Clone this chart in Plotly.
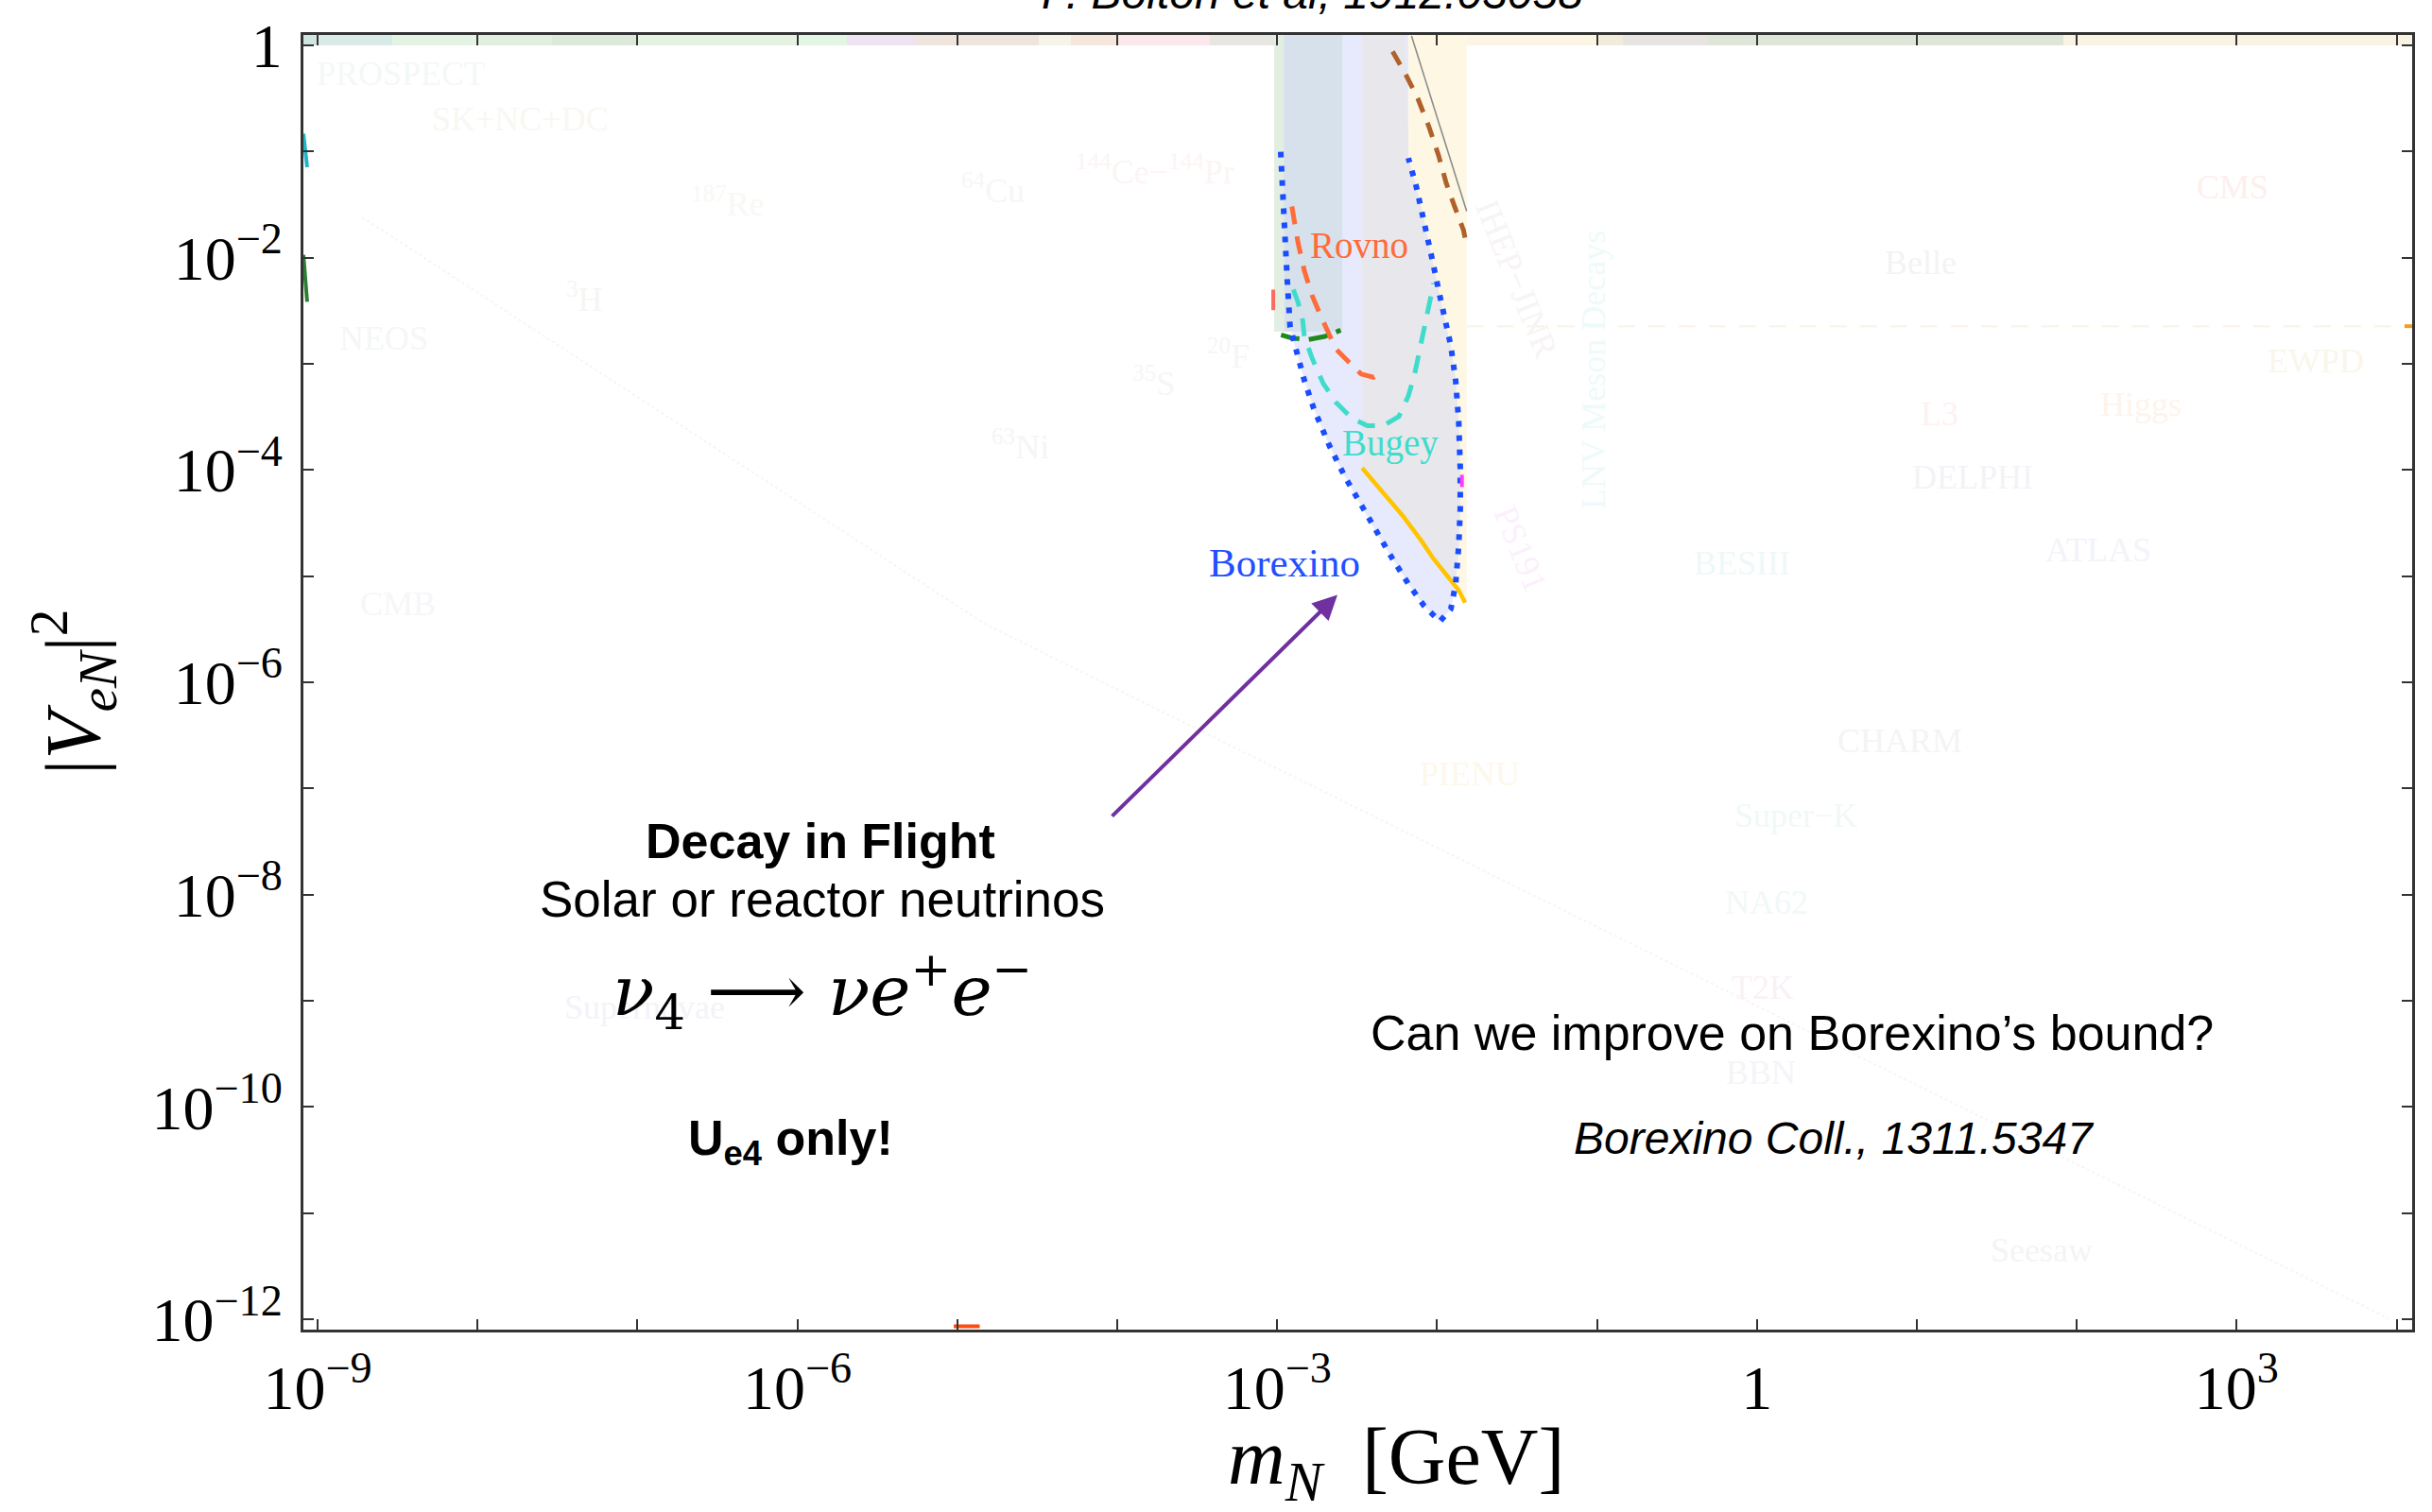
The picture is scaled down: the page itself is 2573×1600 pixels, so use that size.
import numpy as np
import plotly.graph_objects as go

# ---------------- axis ranges & ticks (data units) ----------------
X_MIN, X_MAX = 8.15e-10, 1.25e4
Y_MIN, Y_MAX = 8.0e-13, 1.25

x_tick_vals = [1e-9, 1e-6, 1e-3, 1.0, 1e3]
x_tick_text = ["10<sup>−9</sup>", "10<sup>−6</sup>", "10<sup>−3</sup>", "1", "10<sup>3</sup>"]
x_minor_vals = [1e-8, 1e-7, 1e-5, 1e-4, 1e-2, 1e-1, 10.0, 100.0, 1e4]
y_tick_vals = [1e-12, 1e-10, 1e-8, 1e-6, 1e-4, 1e-2, 1.0]
y_tick_text = ["10<sup>−12</sup>", "10<sup>−10</sup>", "10<sup>−8</sup>", "10<sup>−6</sup>",
               "10<sup>−4</sup>", "10<sup>−2</sup>", "1"]
y_minor_vals = [1e-11, 1e-9, 1e-7, 1e-5, 1e-3, 1e-1]

# ---------------- Borexino bound (open dotted contour) ----------------
borexino_m = [1.052e-3, 1.076e-3, 1.102e-3, 1.153e-3, 1.205e-3, 1.291e-3, 1.479e-3, 1.694e-3,
              2.128e-3, 2.667e-3, 3.350e-3, 4.21e-3, 5.27e-3, 6.61e-3, 8.30e-3, 1.040e-2,
              1.219e-2, 1.306e-2, 1.365e-2, 1.396e-2, 1.396e-2, 1.365e-2, 1.306e-2, 1.219e-2,
              1.140e-2, 1.040e-2, 9.29e-3, 8.30e-3, 7.40e-3, 6.61e-3]
borexino_v = [9.93e-2, 4.40e-2, 1.816e-2, 6.56e-3, 2.21e-3, 1.472e-3, 6.97e-4, 3.78e-4,
              1.675e-4, 8.49e-5, 4.61e-5, 2.50e-5, 1.452e-5, 8.45e-6, 5.24e-6, 3.74e-6,
              4.90e-6, 8.45e-6, 1.910e-5, 4.32e-5, 1.042e-4, 2.88e-4, 6.97e-4, 1.472e-3,
              2.21e-3, 4.37e-3, 9.86e-3, 2.23e-2, 4.71e-2, 8.67e-2]

# ---------------- other reactor / lab bounds ----------------
rovno_m = [1.236e-3, 1.349e-3, 1.479e-3, 1.656e-3, 1.858e-3, 2.080e-3, 2.328e-3, 2.793e-3,
           3.350e-3, 4.009e-3, 4.603e-3]
rovno_v = [3.03e-2, 1.387e-2, 7.52e-3, 4.37e-3, 2.90e-3, 2.00e-3, 1.377e-3, 1.047e-3,
           8.00e-4, 7.46e-4, 8.55e-4]

bugey_m = [1.262e-3, 1.349e-3, 1.445e-3, 1.479e-3, 1.656e-3, 1.941e-3, 2.328e-3, 2.917e-3,
           3.664e-3, 4.603e-3, 5.77e-3, 6.61e-3, 7.24e-3, 7.74e-3, 8.11e-3, 8.89e-3, 9.51e-3]
bugey_v = [5.00e-3, 3.81e-3, 2.54e-3, 1.807e-3, 1.122e-3, 6.52e-4, 4.34e-4, 3.08e-4,
           2.61e-4, 2.61e-4, 3.19e-4, 4.97e-4, 8.00e-4, 1.285e-3, 1.932e-3, 3.81e-3, 5.73e-3]

green_m = [1.057e-3, 1.236e-3, 1.549e-3, 1.986e-3, 2.495e-3]
green_v = [1.871e-3, 1.746e-3, 1.687e-3, 1.807e-3, 2.07e-3]

yellow_m = [3.40e-3, 4.603e-3, 6.04e-3, 7.93e-3, 9.51e-3, 1.140e-2, 1.365e-2, 1.496e-2]
yellow_v = [1.042e-4, 6.04e-5, 3.76e-5, 2.18e-5, 1.452e-5, 1.035e-5, 7.36e-6, 5.61e-6]

brown_m = [5.27e-3, 6.32e-3, 7.57e-3, 8.89e-3, 1.019e-2, 1.140e-2, 1.276e-2, 1.462e-2, 1.531e-2]
brown_v = [0.873, 0.543, 0.316, 0.171, 9.27e-2, 5.04e-2, 3.13e-2, 1.816e-2, 1.294e-2]

grayline_m = [6.92e-3, 1.531e-2]
grayline_v = [1.225, 2.73e-2]

# ---------------- shaded exclusion regions ----------------
greenband_m = [9.57e-4, 1.101e-3]
bluegray_m = [1.101e-3, 2.553e-3]
band_bottom_v = 2.0e-3

gray_m = [3.40e-3, 6.32e-3, 6.61e-3, 7.40e-3, 8.30e-3, 9.29e-3, 1.040e-2, 1.140e-2, 1.219e-2,
          1.306e-2, 1.365e-2, 1.396e-2, 1.396e-2, 1.365e-2, 1.306e-2,
          1.140e-2, 9.51e-3, 7.93e-3, 6.04e-3, 4.603e-3, 3.40e-3]
gray_v = [1.25, 1.25, 8.67e-2, 4.71e-2, 2.23e-2, 9.86e-3, 4.37e-3, 2.21e-3, 1.472e-3,
          6.97e-4, 2.88e-4, 1.042e-4, 4.32e-5, 1.910e-5, 8.45e-6,
          1.035e-5, 1.452e-5, 2.18e-5, 3.76e-5, 6.04e-5, 1.042e-4]

cream_m = [6.32e-3, 1.531e-2, 1.531e-2, 1.306e-2, 6.61e-3]
cream_v = [1.25, 1.25, 5.53e-6, 8.45e-6, 8.67e-2]

# faded colour strip above |V|^2 = 1
strip_edges = [8.15e-10, 9.86e-10, 2.93e-9, 1.026e-8, 2.92e-8, 9.82e-8, 1.019e-6, 2.04e-6,
               5.51e-6, 3.23e-5, 5.13e-5, 1.028e-4, 3.79e-4, 9.57e-4]
strip_colors = ["#cfe5df", "#d9ebe7", "#e3f3e4", "#e2efdf", "#dce8d9", "#e5f2df", "#e3f5e3",
                "#ede3f2", "#efe5dd", "#f6f4e6", "#f6e6db", "#fbe7ec", "#e8e6e1"]
strip2_edges = [1.531e-2, 0.1033, 0.1452, 0.494, 82.4, 1.25e4]
strip2_colors = ["#fcf5e3", "#f1ecd9", "#e8e4e2", "#dde6d8", "#f8f3e3"]

# faint background curves
seesaw_m = [1.897e-9, 1.489e-5, 8.89e3]
seesaw_v = [2.40e-2, 3.54e-6, 1.02e-12]
ewpd_m = [1.531e-2, 1.25e4]
ewpd_v = [2.26e-3, 2.26e-3]

# faded labels of the background plot
faint_labels = ["PROSPECT", "SK+NC+DC", "<sup>187</sup>Re", "<sup>3</sup>H", "NEOS", "CMB",
                "<sup>64</sup>Cu", "<sup>144</sup>Ce−<sup>144</sup>Pr", "<sup>20</sup>F",
                "<sup>35</sup>S", "<sup>63</sup>Ni", "IHEP−JINR", "PS191", "LNV Meson Decays",
                "BESIII", "Belle", "CMS", "EWPD", "L3", "Higgs", "DELPHI", "ATLAS", "CHARM",
                "Super−K", "NA62", "T2K", "BBN", "PIENU", "Seesaw", "Supernovae"]
faint_m = [3.31e-9, 1.841e-8, 3.67e-7, 4.65e-8, 2.59e-9, 3.18e-9, 1.66e-5, 1.722e-4, 4.98e-4,
           1.679e-4, 2.49e-5, 3.16e-2, 3.34e-2, 9.53e-2, 0.807, 10.57, 942, 3119, 13.87, 251.8,
           22.3, 136.5, 7.83, 1.750, 1.148, 1.089, 1.059, 1.600e-2, 60.3, 1.109e-7]
faint_v = [0.543, 0.200, 3.33e-2, 4.25e-3, 1.734e-3, 5.53e-6, 4.43e-2, 6.79e-2, 1.250e-3,
           6.79e-4, 1.734e-4, 6.38e-3, 1.807e-5, 8.67e-4, 1.33e-5, 9.03e-3, 4.61e-2, 1.064e-3,
           3.40e-4, 4.16e-4, 8.49e-5, 1.770e-5, 2.82e-7, 5.53e-8, 8.49e-9, 1.330e-9, 2.12e-10,
           1.358e-7, 4.43e-12, 8.67e-10]
faint_angle = [0, 0, 0, 0, 0, 0, 0, 0, 0, 0, 0, 68, 68, -90, 0, 0, 0, 0, 0, 0, 0, 0, 0, 0, 0,
               0, 0, 0, 0, 0]
faint_colors = ["#f3f8f7", "#f9f7f1", "#f7f9f4", "#f5f6f3", "#f4f7f6", "#f6f6f9", "#f8f6f4",
                "#fdf4f4", "#f6f6f6", "#f6f6f6", "#f5f5f5", "#f7f4f4", "#fcf0fc", "#eefafa",
                "#eff8f8", "#f3f3f3", "#fdefed", "#faf6ea", "#fdf2f0", "#fdf4ec", "#f3f3f7",
                "#f3f3fa", "#f4f4f4", "#f0f8f8", "#f1f8f8", "#faf1f7", "#f5f4f8", "#fdf8ea",
                "#f4f4f4", "#f3f3f9"]

# small coloured fragments at the frame
frag_m = [[8.15e-10, 8.6e-10], [8.15e-10, 8.6e-10], [9.45e-4, 9.45e-4], [1.43e-2, 1.43e-2],
          [9.5e-6, 1.38e-5], [1.12e4, 1.25e4]]
frag_v = [[0.147, 7.1e-2], [1.06e-2, 3.84e-3], [5.0e-3, 3.2e-3], [9.0e-5, 6.9e-5],
          [8.6e-13, 8.6e-13], [2.26e-3, 2.26e-3]]
frag_colors = ["#22b5c8", "#2e7d32", "#ff6b5e", "#ff3cff", "#ff4a10", "#f0a020"]

# ---------------- annotation texts ----------------
curve_labels = ["Borexino", "Rovno", "Bugey"]
curve_label_m = [1.112e-3, 3.26e-3, 5.105e-3]
curve_label_v = [1.343e-5, 1.315e-2, 1.77e-4]
curve_label_colors = ["#1f4fff", "#ff6b3a", "#3fdccb"]
curve_label_sizes = [43, 39, 39]

arrow_head = (2.382e-3, 6.65e-6)
arrow_tail = (9.10e-5, 5.32e-8)

# ------------------------------------------------------------------
L = np.log10
fig = go.Figure()


def poly(xs, ys, color):
    fig.add_trace(go.Scatter(x=xs, y=ys, mode="lines", fill="toself", fillcolor=color,
                             line=dict(width=0, color=color), hoverinfo="skip",
                             showlegend=False))


def curve(xs, ys, color, width, dash="solid"):
    fig.add_trace(go.Scatter(x=xs, y=ys, mode="lines",
                             line=dict(color=color, width=width, dash=dash),
                             hoverinfo="skip", showlegend=False))


# top strip
for i, c in enumerate(strip_colors):
    a, b = strip_edges[i], strip_edges[i + 1]
    poly([a, b, b, a], [1.0, 1.0, Y_MAX, Y_MAX], c)
for i, c in enumerate(strip2_colors):
    a, b = strip2_edges[i], strip2_edges[i + 1]
    poly([a, b, b, a], [1.0, 1.0, Y_MAX, Y_MAX], c)

# faint background curves
curve(seesaw_m, seesaw_v, "rgba(170,170,180,0.12)", 2, "dot")
curve(ewpd_m, ewpd_v, "rgba(235,215,160,0.25)", 2.5, "18px,14px")

# highlighted region
poly(cream_m, cream_v, "#fdf7e4")
bx = [borexino_m[0]] + borexino_m + [borexino_m[-1]]
by = [Y_MAX] + borexino_v + [Y_MAX]
poly(bx, by, "#e7eafc")
poly([greenband_m[0], greenband_m[1], greenband_m[1], greenband_m[0]],
     [band_bottom_v, band_bottom_v, Y_MAX, Y_MAX], "#e3eee3")
poly([bluegray_m[0], bluegray_m[1], bluegray_m[1], bluegray_m[0]],
     [band_bottom_v, band_bottom_v, Y_MAX, Y_MAX], "#d6e1ec")
poly(gray_m, gray_v, "#e8e7ec")

# lines
curve(grayline_m, grayline_v, "#8c8c8c", 1.6)
curve(brown_m, brown_v, "#b0602a", 5, "16px,12px")
curve(rovno_m, rovno_v, "#ff6b3a", 5, "19px,13px")
curve(bugey_m, bugey_v, "#3fdccb", 5, "19px,13px")
curve(green_m, green_v, "#1e8a1e", 5, "20px,10px")
curve(yellow_m, yellow_v, "#ffc400", 4.5)
curve(borexino_m, borexino_v, "#1a4dff", 6, "6px,9px")
for fm, fv, fc in zip(frag_m, frag_v, frag_colors):
    curve(fm, fv, fc, 4)

annotations = []
# faint labels
for t, m, v, ang, c in zip(faint_labels, faint_m, faint_v, faint_angle, faint_colors):
    annotations.append(dict(x=L(m), y=L(v), xref="x", yref="y", text=t, showarrow=False,
                            textangle=ang,
                            font=dict(family="Liberation Serif", size=36, color=c)))
# curve labels
for t, m, v, c, s in zip(curve_labels, curve_label_m, curve_label_v, curve_label_colors,
                         curve_label_sizes):
    annotations.append(dict(x=L(m), y=L(v), xref="x", yref="y", text=t, showarrow=False,
                            font=dict(family="Liberation Serif", size=s, color=c)))

# arrow
annotations.append(dict(x=L(arrow_head[0]), y=L(arrow_head[1]), xref="x", yref="y",
                        ax=L(arrow_tail[0]), ay=L(arrow_tail[1]), axref="x", ayref="y",
                        text="", showarrow=True, arrowhead=2, arrowsize=1.3, arrowwidth=4,
                        arrowcolor="#7030a0", standoff=0, startstandoff=0))

sans = "Liberation Sans, Arial, sans-serif"
text_items = [
    ("<b>Decay in Flight</b>", 1.393e-6, 3.19e-8, 52, sans),
    ("Solar or reactor neutrinos", 1.432e-6, 9.12e-9, 53, sans),
    ("<i>ν</i><sub>4</sub> ⟶ <i>νe</i><sup>+</sup><i>e</i><sup>−</sup>", 1.432e-6, 1.25e-9,
     73, "DejaVu Serif, serif"),
    ("<b>U<sub>e4</sub> only!</b>", 9.02e-7, 4.71e-11, 52, sans),
    ("Can we improve on Borexino’s bound?", 1.660, 5.00e-10, 52, sans),
    ("<i>Borexino Coll., 1311.5347</i>", 3.02, 5.11e-11, 48, sans),
]
for t, m, v, s, f in text_items:
    annotations.append(dict(x=L(m), y=L(v), xref="x", yref="y", text=t, showarrow=False,
                            font=dict(family=f, size=s, color="black")))

# citation at top (partially cut off)
annotations.append(dict(x=0.4786, y=1.0116, xref="paper", yref="paper", xanchor="center",
                        yanchor="bottom", text="<i>P. Bolton et al, 1912.03058</i>",
                        showarrow=False, font=dict(family=sans, size=48, color="black")))
# axis titles
annotations.append(dict(x=0.518, y=-0.103, xref="paper", yref="paper", xanchor="center",
                        yanchor="middle", showarrow=False,
                        text="<i>m</i><sub><i>N</i></sub>  [GeV]",
                        font=dict(family="Liberation Serif, serif", size=84, color="black")))
annotations.append(dict(x=-0.1094, y=0.4927, xref="paper", yref="paper", xanchor="center",
                        yanchor="middle", showarrow=False, textangle=-90,
                        text="|<i>V</i><sub><i>eN</i></sub>|<sup>2</sup>",
                        font=dict(family="Liberation Serif, serif", size=82, color="black")))

axis_common = dict(type="log", showgrid=False, zeroline=False, ticks="inside", ticklen=11,
                   tickwidth=2, tickcolor="#333333", showline=True, linecolor="#333333",
                   linewidth=3, mirror="ticks",
                   tickfont=dict(family="Liberation Serif, serif", size=66, color="black"))
minor_common = dict(ticks="inside", ticklen=11, tickwidth=2, tickcolor="#333333",
                    showgrid=False)

fig.update_layout(
    width=2573, height=1600,
    margin=dict(l=321, r=21, t=29, b=193, pad=0),
    plot_bgcolor="white", paper_bgcolor="white",
    showlegend=False,
    xaxis=dict(range=[L(X_MIN), L(X_MAX)], tickvals=x_tick_vals, ticktext=x_tick_text,
               ticklabelstandoff=2, minor=dict(tickvals=x_minor_vals, **minor_common),
               **axis_common),
    yaxis=dict(range=[L(Y_MIN), L(Y_MAX)], tickvals=y_tick_vals, ticktext=y_tick_text,
               ticklabelstandoff=6, minor=dict(tickvals=y_minor_vals, **minor_common),
               **axis_common),
    annotations=annotations,
)

fig.write_html("out.html")
